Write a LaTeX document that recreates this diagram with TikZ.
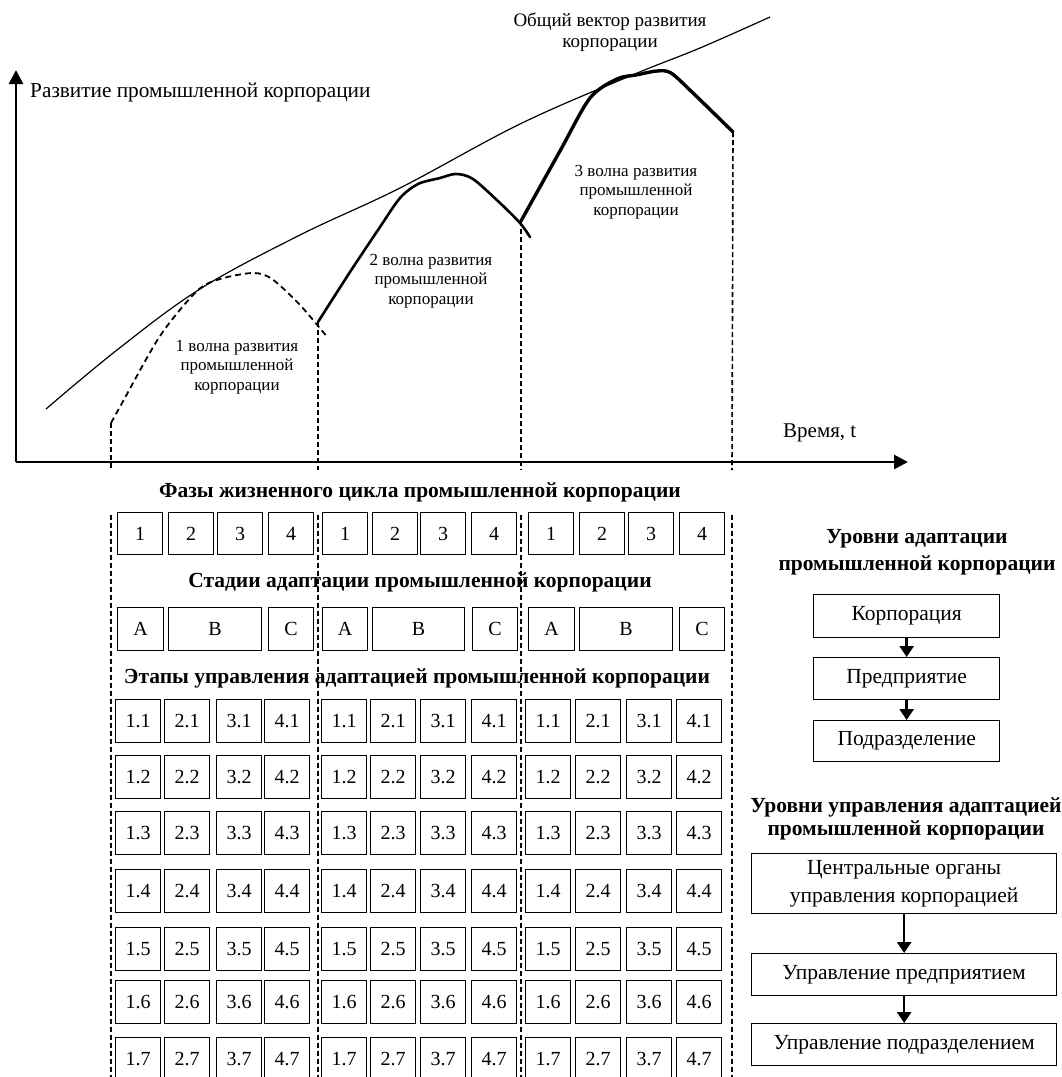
\documentclass[tikz,border=0pt]{standalone}
\usepackage{fontspec}
\setmainfont{Liberation Serif}
\usetikzlibrary{arrows.meta}

\begin{document}
\begin{tikzpicture}[x=1pt,y=-1pt,
  cell/.style={draw, line width=1.3pt, inner sep=0pt, anchor=north west, font=\fontsize{20}{22}\selectfont},
  rbox/.style={draw, line width=1.3pt, inner sep=0pt, anchor=north west, align=center, font=\fontsize{21.5}{28}\selectfont},
  ttl/.style={font=\bfseries\fontsize{21.5}{27}\selectfont, align=center, inner sep=0pt},
  lbl/.style={font=\fontsize{17}{19.5}\selectfont, align=center, inner sep=0pt},
  vdash/.style={line width=1.6pt, dash pattern=on 5pt off 3pt},
  axis/.style={line width=2.8pt, -{Triangle[length=14pt,width=14pt]}},
  darr/.style={line width=2.6pt, -{Triangle[length=11pt,width=14pt]}}
]
\useasboundingbox (0,0) rectangle (1061,1077);
\clip (0,0) rectangle (1061,1077);

% ---------------- chart ----------------
\coordinate (O) at (16,462);
\coordinate (Ytop) at (16,70);
\coordinate (Xend) at (908,462);
\draw[axis] (O) -- (Ytop);
\draw[axis] (O) -- (Xend);

\node[anchor=west, inner sep=0pt, font=\fontsize{21.3}{24}\selectfont] (ylab) at (30,92) {Развитие промышленной корпорации};
\node[anchor=west, inner sep=0pt, font=\fontsize{21}{24}\selectfont] (xlab) at (783,433) {Время, t};

% envelope
\draw[line width=1.2pt] plot[smooth, tension=0.6] coordinates {(46,409) (117,350) (200,289) (300,235) (400,188) (520,124) (630,76) (700,48) (770,17)};
\node[lbl, font=\fontsize{19}{21}\selectfont] (envlab) at (610,32) {Общий вектор развития\\корпорации};

% wave 1 (dashed)
\coordinate (w1s) at (111,423);
\coordinate (w1e) at (318,322);
\draw[line width=1.8pt, dash pattern=on 6pt off 4pt] plot[smooth, tension=0.5] coordinates {(111,423) (121,405) (160,336) (197,291) (220,279) (253,273) (272,279) (300,305) (328,338)};

% wave 2
\coordinate (w2e) at (521,221);
\draw[line width=2.6pt, line cap=round] plot[smooth, tension=0.5] coordinates {(318,322) (350,272) (380,227) (400,198) (418,184) (440,178) (456,174) (473,179) (500,203) (520,223) (530,237)};

% wave 3
\coordinate (w3e) at (733,132);
\draw[line width=3.4pt, line cap=round] plot[smooth, tension=0.5] coordinates {(521,221) (560,151) (590,98) (617,79) (636,75) (657,71) (671,73) (693,93) (733,132)};

\node[lbl] (l1) at (237,367) {1 волна развития\\промышленной\\корпорации};
\node[lbl] (l2) at (431,281) {2 волна развития\\промышленной\\корпорации};
\node[lbl] (l3) at (636,192) {3 волна развития\\промышленной\\корпорации};

% vertical dashed lines
\draw[vdash] (w1s) -- (111,470);
\draw[vdash] (w1e) -- (318,470);
\draw[vdash] (w2e) -- (521,470);
\draw[vdash] (w3e) -- (732,470);
\foreach \xx in {111,318,521,732}{
  \draw[vdash] (\xx,515) -- (\xx,1085);
}

% ---------------- titles ----------------
\node[ttl] (t1) at (420,492) {Фазы жизненного цикла промышленной корпорации};
\node[ttl] (t2) at (420,582) {Стадии адаптации промышленной корпорации};
\node[ttl] (t3) at (417,678) {Этапы управления адаптацией промышленной корпорации};

% phases row
\foreach \xx/\c/\s in {117/1/1,168/2/1,217/3/1,268/4/1,322/1/2,372/2/2,420/3/2,471/4/2,528/1/3,579/2/3,628/3/3,679/4/3}{
  \node[cell, minimum width=45pt, minimum height=42pt] (p\s-\c) at (\xx,512) {\c};
}

% stages row
\foreach \xx/\w/\t/\s in {117/46/A/1,168/93/B/1,268/45/C/1,322/45/A/2,372/92/B/2,472/45/C/2,528/46/A/3,579/93/B/3,679/45/C/3}{
  \node[cell, minimum width=\w pt, minimum height=43pt] (s\s-\t) at (\xx,607) {\t};
}

% steps grid
\foreach \yy [count=\ri] in {699,755,811,869,927,980,1037}{
  \foreach \xx/\c/\s in {115/1/1,164/2/1,216/3/1,264/4/1,321/1/2,370/2/2,420/3/2,471/4/2,525/1/3,575/2/3,626/3/3,676/4/3}{
    \node[cell, minimum width=45pt, minimum height=43pt] (g\s-\c-\ri) at (\xx,\yy) {\c.\ri};
  }
}

% ---------------- right side ----------------
\node[ttl] (rt1) at (917,552) {Уровни адаптации\\промышленной корпорации};
\node[rbox, minimum width=186pt, minimum height=43pt] (k1) at (813,594) {Корпорация};
\node[rbox, minimum width=186pt, minimum height=42pt] (k2) at (813,657) {Предприятие};
\node[rbox, minimum width=186pt, minimum height=41pt] (k3) at (813,720) {Подразделение};
\draw[darr] (k1.south) -- (k2.north);
\draw[darr] (k2.south) -- (k3.north);

\node[ttl, font=\bfseries\fontsize{21.5}{23.5}\selectfont] (rt2) at (906,819) {Уровни управления адаптацией\\промышленной корпорации};
\node[rbox, minimum width=305pt, minimum height=60pt] (m1) at (751,853) {Центральные органы\\управления корпорацией};
\node[rbox, minimum width=305pt, minimum height=42pt] (m2) at (751,953) {Управление предприятием};
\node[rbox, minimum width=305pt, minimum height=42pt] (m3) at (751,1023) {Управление подразделением};
\draw[darr] (m1.south) -- (m2.north);
\draw[darr] (m2.south) -- (m3.north);
\end{tikzpicture}
\end{document}
